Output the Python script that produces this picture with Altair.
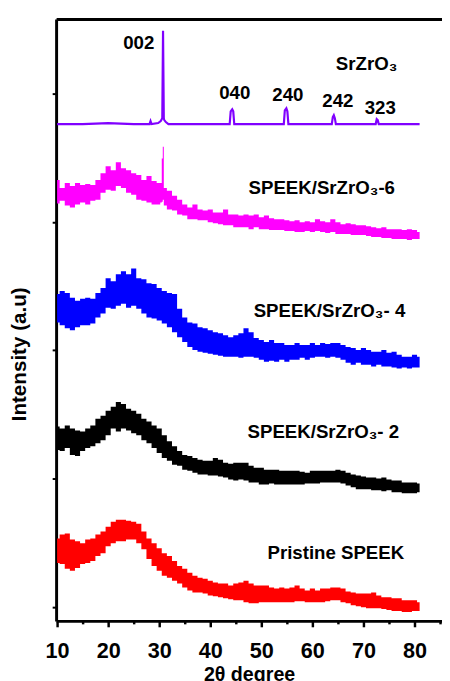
import altair as alt
import pandas as pd

# ---------------- data ----------------
deg = list(range(10, 82))  # 2theta, degrees

# SPEEK/SrZrO3-6 (magenta) noisy band: upper / lower envelope (a.u.)
mag_upper = [450, 442, 447, 444, 447, 445, 446, 445, 450, 457,
             464, 460, 468, 462, 460, 457, 455, 450, 454, 449,
             447, 442, 439, 434, 430, 425, 422, 425, 420, 419,
             420, 417, 417, 420, 415, 415, 414, 415, 414, 415,
             412, 414, 411, 410, 410, 409, 408, 409, 407, 408,
             407, 410, 408, 407, 410, 407, 405, 406, 405, 404,
             404, 403, 402, 401, 402, 400, 400, 400, 399, 400,
             399, 397]
mag_lower = [426, 429, 424, 422, 425, 427, 425, 429, 430, 437,
             440, 439, 444, 442, 437, 435, 430, 429, 427, 425,
             425, 424, 420, 419, 415, 414, 410, 410, 409, 409,
             407, 406, 405, 404, 404, 402, 402, 402, 400, 402,
             400, 400, 399, 399, 399, 398, 398, 397, 397, 398,
             397, 398, 397, 396, 397, 395, 395, 395, 394, 394,
             394, 393, 392, 392, 391, 391, 390, 390, 390, 389,
             390, 390]
mag_spike_deg = [30.4, 30.6, 30.8]
mag_spike_upper = [447, 472, 484]
mag_spike_lower = [427, 428, 430]

# SPEEK/SrZrO3- 4 (blue)
blue_upper = [334, 337, 335, 330, 327, 329, 330, 329, 335, 340,
              350, 347, 354, 357, 354, 360, 350, 349, 345, 344,
              340, 337, 335, 334, 319, 310, 305, 304, 300, 299,
              297, 295, 294, 292, 290, 292, 294, 299, 295, 289,
              287, 285, 287, 284, 284, 282, 282, 284, 282, 282,
              284, 282, 284, 283, 284, 284, 282, 280, 279, 277,
              279, 277, 275, 275, 277, 274, 275, 272, 270, 270,
              272, 270]
blue_lower = [305, 302, 299, 297, 300, 302, 302, 304, 310, 314,
              320, 319, 322, 324, 320, 322, 319, 314, 310, 309,
              307, 304, 300, 295, 290, 285, 280, 277, 275, 274,
              273, 272, 271, 270, 270, 270, 269, 270, 270, 269,
              267, 265, 266, 265, 267, 265, 267, 267, 269, 267,
              269, 270, 270, 269, 270, 269, 267, 264, 262, 264,
              262, 262, 260, 262, 260, 260, 259, 258, 259, 258,
              259, 259]

# SPEEK/SrZrO3- 2 (black)
black_upper = [199, 197, 200, 197, 195, 194, 197, 200, 207, 210,
               215, 219, 224, 222, 217, 215, 212, 207, 204, 200,
               197, 190, 184, 179, 174, 170, 169, 167, 165, 164,
               164, 167, 165, 162, 161, 162, 162, 162, 159, 157,
               157, 155, 155, 155, 154, 154, 154, 154, 153, 152,
               154, 154, 154, 154, 154, 155, 154, 152, 150, 149,
               148, 147, 147, 146, 147, 145, 144, 144, 142, 142,
               142, 141]
black_lower = [175, 174, 177, 170, 169, 174, 177, 179, 182, 185,
               190, 197, 194, 197, 195, 192, 190, 185, 182, 177,
               172, 167, 164, 160, 159, 155, 154, 152, 150, 150,
               149, 149, 148, 147, 145, 144, 145, 144, 142, 142,
               140, 140, 141, 140, 140, 140, 140, 140, 140, 141,
               141, 141, 142, 142, 142, 142, 141, 139, 137, 135,
               135, 135, 134, 134, 133, 134, 132, 132, 131, 131,
               131, 132]

# Pristine SPEEK (red)
red_upper = [85, 89, 90, 84, 82, 80, 84, 85, 89, 92,
             97, 102, 104, 104, 103, 102, 100, 92, 85, 80,
             75, 70, 67, 62, 57, 54, 50, 47, 45, 44,
             42, 40, 39, 39, 37, 39, 40, 42, 39, 37,
             37, 37, 35, 34, 35, 34, 35, 37, 34, 32,
             34, 32, 34, 34, 35, 35, 34, 31, 30, 29,
             29, 29, 30, 27, 25, 25, 24, 24, 22, 22,
             22, 20]
red_lower = [60, 59, 54, 52, 55, 59, 60, 62, 67, 70,
             77, 80, 82, 82, 84, 84, 80, 74, 64, 57,
             52, 47, 45, 42, 39, 35, 32, 30, 30, 29,
             27, 26, 25, 24, 23, 22, 22, 20, 19, 19,
             20, 20, 20, 20, 20, 20, 20, 21, 21, 20,
             20, 20, 20, 21, 22, 22, 20, 19, 17, 16,
             15, 14, 14, 14, 13, 12, 11, 11, 10, 10,
             11, 11]

# SrZrO3 (violet line)
sr_deg = [10, 15, 20, 25, 27.9, 28.1, 28.3, 28.5, 29.8, 30.3,
          30.6, 30.75, 30.9, 31.0, 31.3, 31.8, 35, 40, 43.8, 44.0,
          44.3, 44.5, 44.7, 50, 54.4, 54.6, 54.9, 55.1, 55.3, 60,
          63.8, 64.0, 64.2, 64.4, 64.6, 70, 72.4, 72.6, 72.8, 73.0,
          77, 81]
sr_int = [507, 507, 508, 507, 507, 507, 510, 507, 508, 510,
          513, 602, 513, 511, 509, 507, 507, 507, 507, 520,
          522, 520, 507, 507, 507, 521, 523, 520, 507, 507,
          507, 514, 516, 513, 507, 507, 507, 512, 511, 507,
          507, 507]

series_names = ["SPEEK/SrZrO3-6", "SPEEK/SrZrO3-4", "SPEEK/SrZrO3-2", "Pristine SPEEK", "SrZrO3"]
series_colors = ["#ff00ff", "#0000ff", "#000000", "#ff0000", "#8000ff"]

sample_labels = ["SrZrO₃", "SPEEK/SrZrO₃-6", "SPEEK/SrZrO₃- 4", "SPEEK/SrZrO₃- 2", "Pristine SPEEK"]
sample_label_deg = [64.6, 47.5, 48.5, 47.3, 51.2]
sample_label_int = [568, 442, 316, 193, 70]

peak_labels = ["002", "040", "240", "242", "323"]
peak_label_deg = [26.0, 44.8, 55.2, 65.0, 73.3]
peak_label_int = [589, 539, 536, 530, 523]

x_ticks = list(range(10, 90, 5))
y_ticks = [15, 146, 277, 407, 538]

# ---------------- tables ----------------
frames = []
for name, up, lo in [("SPEEK/SrZrO3-6", mag_upper, mag_lower),
                     ("SPEEK/SrZrO3-4", blue_upper, blue_lower),
                     ("SPEEK/SrZrO3-2", black_upper, black_lower),
                     ("Pristine SPEEK", red_upper, red_lower)]:
    frames.append(pd.DataFrame({"deg": deg, "upper": up, "lower": lo, "series": name}))
frames.append(pd.DataFrame({"deg": mag_spike_deg, "upper": mag_spike_upper,
                            "lower": mag_spike_lower, "series": "SPEEK/SrZrO3-6"}))
band_df = pd.concat(frames, ignore_index=True).sort_values(["series", "deg"])

sr_df = pd.DataFrame({"deg": sr_deg, "int": sr_int, "series": "SrZrO3"})
lab_df = pd.DataFrame({"deg": sample_label_deg, "int": sample_label_int, "text": sample_labels})
peak_df = pd.DataFrame({"deg": peak_label_deg, "int": peak_label_int, "text": peak_labels})

FONT = "Liberation Sans"
xscale = alt.Scale(domain=[9.808, 85.385], nice=False, zero=False)
yscale = alt.Scale(domain=[1, 614], nice=False, zero=False)
cscale = alt.Scale(domain=series_names, range=series_colors)

x_axis = alt.Axis(
    title="2θ degree", titleFontSize=20, titleFontWeight="bold", titleFont=FONT,
    titleColor="black", titlePadding=4,
    values=x_ticks, labelExpr="datum.value % 10 === 0 ? datum.label : ''",
    labelFontSize=22, labelFontWeight="bold", labelFont=FONT, labelColor="black",
    labelPadding=14, labelFlush=False,
    tickSize=alt.condition("datum.value % 10 === 0", alt.value(6), alt.value(3)),
    tickWidth=2.5, tickColor="black",
    domainColor="black", domainWidth=3, grid=False,
)
y_axis = alt.Axis(
    title="Intensity (a.u)", titleFontSize=21, titleFontWeight="bold", titleFont=FONT,
    titleColor="black", titlePadding=22, titleY=341,
    values=y_ticks, labels=False, tickSize=4, tickWidth=2, tickColor="black",
    domainColor="black", domainWidth=3, grid=False,
)
top_axis = alt.Axis(orient="top", title=None, labels=False, ticks=False,
                    domainColor="black", domainWidth=3, grid=False)

bands = alt.Chart(band_df).mark_area(interpolate="step", opacity=1).encode(
    x=alt.X("deg:Q", scale=xscale, axis=x_axis),
    y=alt.Y("upper:Q", scale=yscale, axis=y_axis),
    y2="lower:Q",
    color=alt.Color("series:N", scale=cscale, legend=None),
    detail="series:N",
)

sr_line = alt.Chart(sr_df).mark_line(strokeWidth=2.2, interpolate="linear").encode(
    x=alt.X("deg:Q", scale=xscale, axis=top_axis),
    y=alt.Y("int:Q", scale=yscale),
    color=alt.Color("series:N", scale=cscale, legend=None),
)

labels = alt.Chart(lab_df).mark_text(
    align="left", baseline="middle", font=FONT, fontSize=19, fontWeight="bold", color="black"
).encode(x=alt.X("deg:Q", scale=xscale, axis=None),
         y=alt.Y("int:Q", scale=yscale), text="text:N")

peaks = alt.Chart(peak_df).mark_text(
    align="center", baseline="middle", font=FONT, fontSize=19, fontWeight="bold", color="black"
).encode(x=alt.X("deg:Q", scale=xscale, axis=None),
         y=alt.Y("int:Q", scale=yscale), text="text:N")

chart = alt.layer(bands, sr_line, labels, peaks).resolve_axis(x="independent").properties(
    width=393, height=613,
    autosize=alt.AutoSizeParams(type="none"),
    padding={"left": 49, "top": 5, "right": 0, "bottom": 55},
).configure_view(stroke=None).configure(background="white")

chart.save("out.html", embed_options={"renderer": "svg", "actions": False})
